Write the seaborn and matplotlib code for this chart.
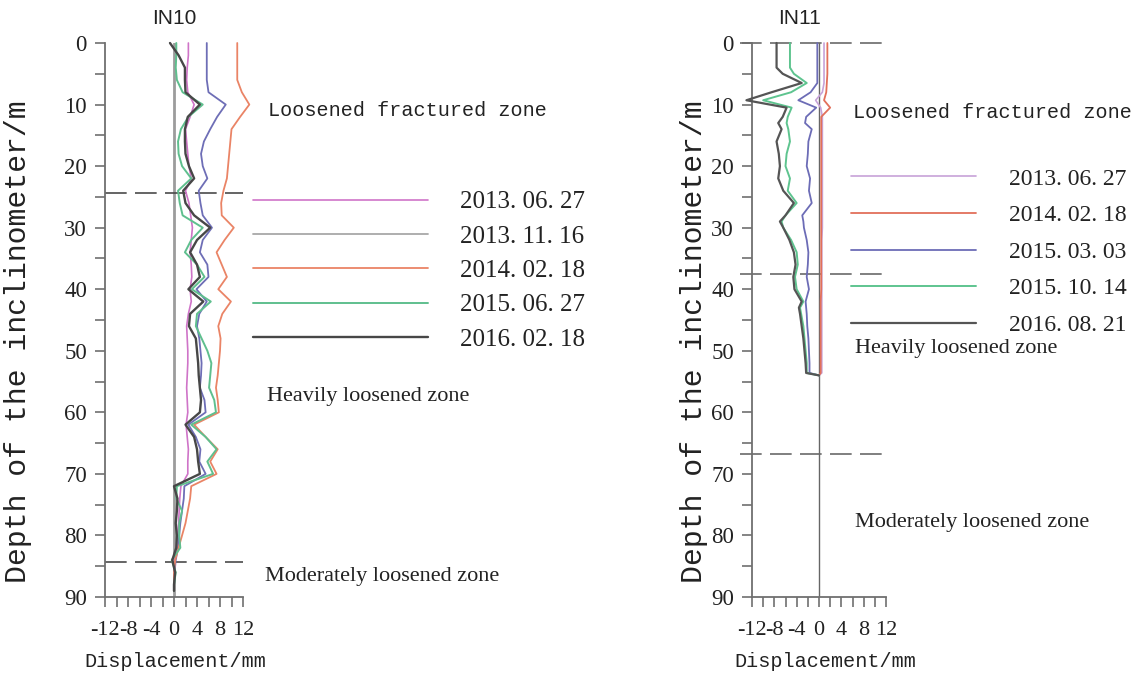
import numpy as np
import pandas as pd
import matplotlib
matplotlib.use("Agg")
import matplotlib.pyplot as plt
import seaborn as sns
from matplotlib.ticker import MultipleLocator, FixedLocator
from matplotlib.font_manager import FontProperties

# ---------------- data ----------------
# IN10 (left)
left_dates = ["2013. 06. 27", "2013. 11. 16", "2014. 02. 18", "2015. 06. 27", "2016. 02. 18"]
left_depth = [0, 2, 4, 6, 8, 10, 12, 14, 16, 18,
              20, 22, 24, 26, 28, 30, 32, 34, 36, 38,
              40, 42, 44, 46, 48, 50, 52, 54, 56, 58,
              60, 62, 64, 66, 68, 70, 72, 74, 76, 78,
              80, 82, 84, 86, 88, 89]
l_130627 = [2.5, 2.5, 2.3, 2.2, 2.4, 3.5, 2.8, 2.0, 2.2, 2.4,
            2.6, 3.0, 2.0, 2.6, 2.9, 3.2, 3.0, 2.8, 3.0, 3.1,
            2.8, 3.0, 2.5, 2.2, 2.3, 2.4, 2.4, 2.3, 2.2, 2.3,
            2.4, 2.1, 2.3, 2.5, 2.4, 2.4, 1.2, 1.0, 0.9, 0.8,
            0.6, 0.4, 0.1, 0.0, 0.0, 0.0]
l_131116 = [5.7, 5.7, 5.7, 5.7, 6.0, 9.0, 7.5, 6.3, 5.2, 4.7,
            5.0, 5.8, 4.3, 4.6, 5.0, 6.6, 5.0, 4.5, 5.8, 6.0,
            3.9, 5.7, 4.4, 4.0, 4.4, 4.6, 4.8, 4.7, 4.5, 5.3,
            5.5, 2.5, 3.8, 4.6, 4.4, 5.5, 1.8, 1.7, 1.4, 1.1,
            0.9, 0.7, 0.3, 0.1, 0.0, 0.0]
l_140218 = [11.0, 11.0, 11.0, 11.0, 11.8, 13.1, 11.5, 10.0, 9.8, 9.6,
            9.4, 9.2, 8.6, 8.2, 8.3, 10.4, 8.8, 7.4, 8.3, 9.2,
            7.7, 9.9, 8.4, 7.7, 8.1, 8.0, 7.8, 7.6, 7.3, 7.6,
            7.8, 3.5, 5.5, 7.6, 6.3, 7.4, 3.0, 2.8, 2.4, 2.0,
            1.4, 0.8, 0.2, 0.0, 0.0, 0.0]
l_150627 = [0.4, 0.4, 0.3, 0.5, 1.5, 5.0, 2.5, 1.2, 0.7, 0.8,
            1.4, 3.0, 0.7, 1.0, 1.5, 5.0, 3.0, 1.9, 4.0, 5.3,
            3.1, 6.4, 4.0, 3.8, 4.8, 5.8, 6.5, 6.3, 6.1, 7.0,
            7.3, 3.0, 5.5, 7.4, 5.8, 6.8, 0.5, 0.4, 1.4, 0.9,
            0.9, 1.1, -0.4, 0.3, 0.0, 0.0]
l_160218 = [-0.7, 0.8, 1.9, 1.9, 2.0, 4.5, 2.4, 1.9, 1.9, 2.0,
            2.6, 3.5, 1.6, 2.0, 3.5, 6.3, 4.0, 2.8, 4.0, 4.5,
            2.5, 5.1, 2.8, 2.6, 3.8, 4.0, 4.2, 4.3, 4.5, 4.7,
            4.5, 2.0, 3.5, 4.0, 4.2, 4.5, 0.0, 0.6, 0.5, 0.3,
            0.5, 0.4, -0.3, 0.2, 0.0, 0.0]
left_zone_depths = [24.3, 84.3]

# IN11 (right)
right_dates = ["2013. 06. 27", "2014. 02. 18", "2015. 03. 03", "2015. 10. 14", "2016. 08. 21"]
right_depth = [0, 2, 4, 5, 6.5, 8, 9.3, 10.5, 12, 13,
               14, 16, 18, 20, 22, 24, 26, 28, 29, 30,
               32, 34, 36, 38, 40, 42, 43, 44, 46, 48,
               50, 52, 53.6, 54]
r_130627 = [0.9, 0.9, 0.9, 0.9, 0.9, 0.6, -0.6, 0.3, 0.6, 0.6,
            0.6, 0.6, 0.6, 0.6, 0.6, 0.6, 0.6, 0.6, 0.6, 0.6,
            0.5, 0.5, 0.5, 0.5, 0.5, 0.5, 0.5, 0.5, 0.5, 0.5,
            0.5, 0.5, 0.5, 0.0]
r_140218 = [1.5, 1.5, 1.5, 1.5, 1.4, 1.3, 0.9, 2.0, 0.4, 0.4,
            0.4, 0.4, 0.4, 0.4, 0.4, 0.4, 0.4, 0.4, 0.4, 0.4,
            0.4, 0.4, 0.4, 0.4, 0.4, 0.3, 0.3, 0.3, 0.3, 0.3,
            0.3, 0.3, 0.3, 0.0]
r_150303 = [-0.3, -0.3, -0.3, -0.3, -0.3, -1.5, -3.7, -0.5, -2.3, -2.5,
            -1.3, -1.9, -2.0, -2.2, -1.6, -1.8, -1.3, -3.0, -2.8, -2.7,
            -2.2, -1.9, -2.0, -2.2, -1.8, -2.4, -2.3, -2.2, -2.1, -1.9,
            -1.8, -1.7, -1.7, 0.0]
r_151014 = [-5.2, -5.2, -5.2, -4.5, -2.2, -5.0, -10.0, -4.9, -5.6, -5.8,
            -5.5, -5.2, -5.8, -6.0, -5.2, -5.6, -4.0, -6.0, -6.7, -6.4,
            -5.0, -4.0, -3.8, -4.3, -4.0, -2.8, -3.4, -3.2, -2.8, -2.6,
            -2.4, -2.2, -2.2, 0.0]
r_160821 = [-7.6, -7.6, -7.6, -6.5, -3.1, -8.5, -13.0, -5.8, -6.5, -7.3,
            -6.7, -7.6, -7.2, -7.0, -7.3, -6.4, -4.5, -6.0, -7.0, -6.4,
            -5.3, -4.5, -4.2, -4.6, -4.4, -3.1, -3.6, -3.4, -3.1, -2.8,
            -2.6, -2.4, -2.3, 0.0]
right_zone_depths = [0.0, 37.6, 66.8]

x_ticks = [-12, -8, -4, 0, 4, 8, 12]
y_ticks = [0, 10, 20, 30, 40, 50, 60, 70, 80, 90]

# ---------------- style ----------------
sns.set_style("ticks")
plt.rcParams["font.family"] = ["Liberation Serif", "DejaVu Serif"]
plt.rcParams["axes.unicode_minus"] = False

W, H = 1139, 679
fig = plt.figure(figsize=(W / 100, H / 100), dpi=100)
fig.patch.set_facecolor("white")

axL = fig.add_axes([105 / W, 1 - 597 / H, 138 / W, 554 / H])
axR = fig.add_axes([752 / W, 1 - 597 / H, 134 / W, 554 / H])

left_colors = ["#cf74c8", "#6e6eb6", "#ea8466", "#5fbf8e", "#474747"]
right_colors = ["#c7a2d8", "#e2705a", "#6c6cb6", "#5ec48f", "#555555"]
left_widths = [1.2, 1.3, 1.3, 1.4, 1.7]
right_widths = [1.2, 1.3, 1.3, 1.4, 1.6]

def long_frame(depth, dates, series):
    rows = []
    for d, s in zip(dates, series):
        rows.append(pd.DataFrame({"depth": depth, "disp": s, "date": d}))
    return pd.concat(rows, ignore_index=True)

dfL = long_frame(left_depth, left_dates, [l_130627, l_131116, l_140218, l_150627, l_160218])
dfR = long_frame(right_depth, right_dates, [r_130627, r_140218, r_150303, r_151014, r_160821])

mono = "Liberation Mono"
serif = "Liberation Serif"

def setup(ax, zero_color, zero_lw):
    ax.set_xlim(-12, 12)
    ax.set_ylim(90, 0)
    ax.axvline(0, color=zero_color, lw=zero_lw, zorder=1)
    for s in ["top", "right"]:
        ax.spines[s].set_visible(False)
    for s in ["left", "bottom"]:
        ax.spines[s].set_color("#6f6f6f")
        ax.spines[s].set_linewidth(1.3)
    ax.xaxis.set_major_locator(FixedLocator(x_ticks))
    ax.xaxis.set_minor_locator(MultipleLocator(2))
    ax.yaxis.set_major_locator(FixedLocator(y_ticks))
    ax.yaxis.set_minor_locator(MultipleLocator(5))
    ax.set_xticklabels([str(t) for t in x_ticks], fontsize=16, family=serif)
    ax.set_yticklabels([str(t) for t in y_ticks], fontsize=16.5, family=serif)
    ax.tick_params(axis="both", which="both", direction="out", length=7,
                   width=1.2, color="#6f6f6f", labelcolor="#222222")
    ax.tick_params(axis="x", which="major", pad=10)
    ax.tick_params(axis="y", which="major", pad=6)
    ax.set_xlabel("Displacement/mm", fontsize=14.5, family=mono, color="#222222")
    ax.set_ylabel("Depth of the inclinometer/m", fontsize=21.5, family=mono, color="#222222")
    ax.set_facecolor("white")

setup(axL, "#9c9c9c", 2.0)
setup(axR, "#666666", 1.0)

def draw(ax, df, dates, colors, widths):
    for d, c, w in zip(dates, colors, widths):
        sns.lineplot(data=df[df["date"] == d], x="disp", y="depth", ax=ax,
                     sort=False, estimator=None, orient="y", color=c, lw=w,
                     label=d, clip_on=False, zorder=3)

draw(axL, dfL, left_dates, left_colors, left_widths)
draw(axR, dfR, right_dates, right_colors, right_widths)

dash = (0, (13, 5))
for z in left_zone_depths:
    axL.axhline(z, color="#4a4a4a", lw=1.2, ls=dash, zorder=2)
for z in right_zone_depths:
    axR.axhline(z, xmin=-0.09, xmax=1.03, color="#6a6a6a", lw=1.2, ls=dash,
                zorder=2, clip_on=False)

# axis label placement
axL.yaxis.set_label_coords(-0.53, 0.46)
axR.yaxis.set_label_coords(-0.33, 0.46)
axL.xaxis.set_label_coords(0.51, -0.10)
axR.xaxis.set_label_coords(0.55, -0.10)

# legends
legfont = FontProperties(family=serif, size=18)
hL, lbL = axL.get_legend_handles_labels()
legL = axL.legend(hL, lbL, loc="upper left", bbox_to_anchor=(253 / W, 1 - 191 / H),
                  bbox_transform=fig.transFigure, frameon=False, handlelength=7,
                  handletextpad=1.3, labelspacing=0.47, borderpad=0, borderaxespad=0,
                  prop=legfont)
legL.get_lines()[1].set_color("#a8a8a8")
for t in legL.get_texts():
    t.set_color("#222222")

legfontR = FontProperties(family=serif, size=17)
hR, lbR = axR.get_legend_handles_labels()
legR = axR.legend(hR, lbR, loc="upper left", bbox_to_anchor=(851 / W, 1 - 168 / H),
                  bbox_transform=fig.transFigure, frameon=False, handlelength=5.3,
                  handletextpad=1.4, labelspacing=0.64, borderpad=0, borderaxespad=0,
                  prop=legfontR)
for t in legR.get_texts():
    t.set_color("#222222")

# titles and zone annotations
def ftext(x, y, s, **kw):
    fig.text(x / W, 1 - y / H, s, color="#222222", **kw)

ftext(174, 18, "IN10", ha="center", va="center", fontsize=15, family="Liberation Sans")
ftext(800, 18, "IN11", ha="center", va="center", fontsize=15, family="Liberation Sans")

ftext(268, 110, "Loosened fractured zone", ha="left", va="center", fontsize=14.5, family=mono)
ftext(267, 397, "Heavily loosened zone", ha="left", va="center", fontsize=16, family=serif)
ftext(265, 577, "Moderately loosened zone", ha="left", va="center", fontsize=16, family=serif)

ftext(853, 113, "Loosened fractured zone", ha="left", va="center", fontsize=14.5, family=mono)
ftext(855, 349, "Heavily loosened zone", ha="left", va="center", fontsize=16, family=serif)
ftext(855, 522, "Moderately loosened zone", ha="left", va="center", fontsize=16, family=serif)

fig.savefig("out.png", dpi=100, facecolor="white")
